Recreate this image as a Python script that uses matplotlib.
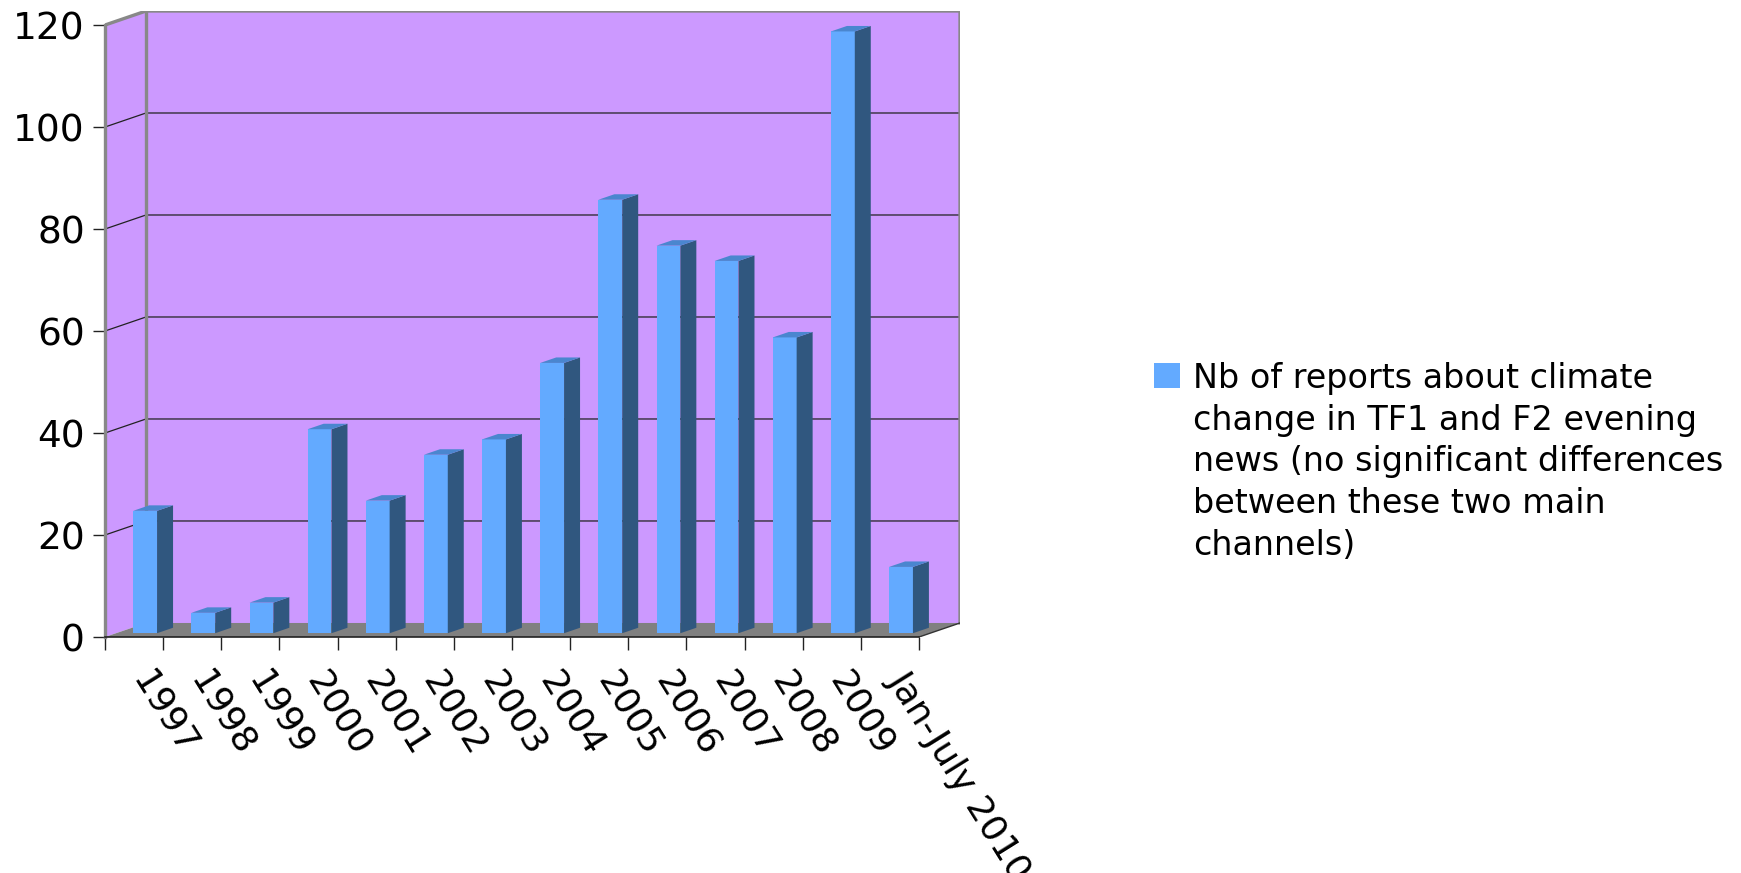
import matplotlib
matplotlib.use('Agg')
import matplotlib.pyplot as plt
from matplotlib.patches import Polygon, Rectangle

plt.rcParams['font.family'] = ['DejaVu Sans']

# data
categories = ['1997', '1998', '1999', '2000', '2001', '2002', '2003', '2004',
              '2005', '2006', '2007', '2008', '2009', 'Jan-July 2010']
reports = [24, 4, 6, 40, 26, 35, 38, 53, 85, 76, 73, 58, 118, 13]
y_ticks = [0, 20, 40, 60, 80, 100, 120]
legend_label = ('Nb of reports about climate\nchange in TF1 and F2 evening\n'
                'news (no significant differences\nbetween these two main\n'
                'channels)')

# colours of the pseudo-3D look
wall_color = '#CC99FF'
floor_color = '#808080'
edge_gray = '#888888'
face_color = '#63AAFF'
side_color = '#30577F'
top_color = '#4A86CF'

# depth of the box (in category units / value units)
DX, DY = 0.705, 2.75
# bar geometry: half-width and depth range (fractions of box depth)
HW = 0.205
F0, F1 = 0.27, 0.66

n = len(categories)
ymax = y_ticks[-1]

fig = plt.figure(figsize=(17.41, 8.73), dpi=100)
ax = fig.add_axes([0.06031, 0.27033, 0.4911, 0.71707])
ax.set_xlim(0, n + DX)
ax.set_ylim(0, ymax + DY)
ax.patch.set_visible(False)

# side wall, back wall, floor
ax.add_patch(Polygon([(0, 0), (DX, DY), (DX, ymax + DY), (0, ymax)],
                     closed=True, fc=wall_color, ec='none', zorder=1))
ax.add_patch(Rectangle((DX, DY), n, ymax, fc=wall_color, ec='none', zorder=1))
ax.add_patch(Polygon([(0, 0), (n, 0), (n + DX, DY), (DX, DY)],
                     closed=True, fc=floor_color, ec='none', zorder=1))

# gridlines on the side and back wall
for v in y_ticks[1:-1]:
    ax.plot([0, DX, n + DX], [v, v + DY, v + DY], color='#222222',
            lw=0.9, zorder=2, solid_capstyle='butt')

# wall edges
ax.plot([0, DX, n + DX, n + DX], [ymax, ymax + DY, ymax + DY, DY],
        color=edge_gray, lw=2.4, zorder=3, solid_joinstyle='miter')
ax.plot([DX, DX], [DY, ymax + DY], color=edge_gray, lw=2.4, zorder=3)
ax.plot([n, n + DX], [0, DY], color='#333333', lw=1.0, zorder=3)

# bars
for i, v in enumerate(reports):
    x0 = i + 0.5 - HW
    x1 = i + 0.5 + HW
    ax0, ay0 = F0 * DX, F0 * DY
    ax1, ay1 = F1 * DX, F1 * DY
    ax.add_patch(Rectangle((x0 + ax0, ay0), x1 - x0, v, fc=face_color,
                           ec='none', zorder=4))
    ax.add_patch(Polygon([(x1 + ax0, ay0), (x1 + ax1, ay1),
                          (x1 + ax1, ay1 + v), (x1 + ax0, ay0 + v)],
                         closed=True, fc=side_color, ec='none', zorder=4))
    ax.add_patch(Polygon([(x0 + ax0, ay0 + v), (x1 + ax0, ay0 + v),
                          (x1 + ax1, ay1 + v), (x0 + ax1, ay1 + v)],
                         closed=True, fc=top_color, ec='none', zorder=4))

# axes
for s in ['top', 'right']:
    ax.spines[s].set_visible(False)
ax.spines['left'].set_bounds(0, ymax)
ax.spines['left'].set_color(edge_gray)
ax.spines['left'].set_linewidth(2.4)
ax.spines['left'].set_zorder(5)
ax.spines['bottom'].set_bounds(0, n)
ax.spines['bottom'].set_color('#222222')
ax.spines['bottom'].set_linewidth(1.2)
ax.spines['bottom'].set_zorder(5)

ax.set_yticks(y_ticks)
ax.tick_params(axis='y', length=8.5, width=1.0, color='#222222',
               labelsize=27, pad=6)
ax.set_xticks(range(n + 1))
ax.set_xticklabels([])
ax.tick_params(axis='x', length=9.5, width=1.0, color='#222222')

for i, lab in enumerate(categories):
    ax.text(i + 0.85, -5.5, lab, rotation=-58, rotation_mode='anchor',
            ha='left', va='top', fontsize=26, clip_on=False)

# legend
fig.add_artist(Rectangle((0.6628, 0.5554), 0.0147, 0.0292,
                         transform=fig.transFigure, fc=face_color, ec='none'))
fig.text(0.6853, 0.5850, legend_label, ha='left', va='top', fontsize=24,
         linespacing=1.33)

fig.savefig('out.png', dpi=100)
